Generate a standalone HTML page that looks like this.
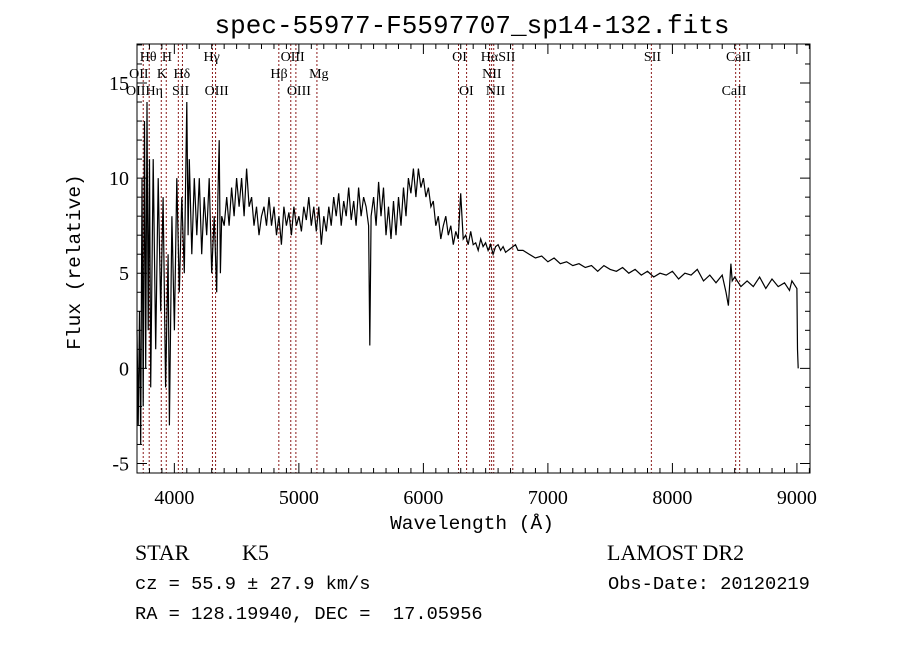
<!DOCTYPE html>
<html><head><meta charset="utf-8"><style>
html,body{margin:0;padding:0;background:#fff;}
svg{display:block;}
text{font-family:"Liberation Serif",serif;fill:#000;}
.mono{font-family:"Liberation Mono",monospace;white-space:pre;}
</style></head><body>
<svg id="chart" width="900" height="649" viewBox="0 0 900 649" xmlns="http://www.w3.org/2000/svg" xml:space="preserve">
<text class="mono" x="472" y="33" font-size="26" text-anchor="middle">spec-55977-F5597707_sp14-132.fits</text>
<g id="lines"></g>
<g id="labels"></g>
<path id="spec" fill="none" stroke="#000" stroke-width="1.2"/>
<rect x="137" y="44" width="673" height="429" fill="none" stroke="#000" stroke-width="1"/>
<g id="ticks" stroke="#000" stroke-width="1"></g>
<g id="ticklabels"></g>
<text class="mono" x="472" y="529" font-size="19.5" text-anchor="middle">Wavelength (Å)</text>
<text class="mono" x="0" y="0" font-size="19.5" text-anchor="middle" transform="translate(80,262) rotate(-90)">Flux (relative)</text>
<text x="135" y="560" font-size="22">STAR</text>
<text x="242" y="560" font-size="22">K5</text>
<text x="607" y="560" font-size="22">LAMOST DR2</text>
<text class="mono" x="135" y="589" font-size="18.7">cz = 55.9 ± 27.9 km/s</text>
<text class="mono" x="608" y="589" font-size="18.7">Obs-Date: 20120219</text>
<text class="mono" x="135" y="619" font-size="18.7">RA = 128.19940, DEC =  17.05956</text>
</svg>
<script>
const waves=[3700,3710,3720,3730,3740,3750,3760,3770,3780,3790,3800,3810,3830,3850,3870,3890,3910,3930,3950,3960,3980,4000,4020,4040,4060,4080,4100,4110,4120,4140,4160,4180,4200,4220,4240,4260,4280,4300,4320,4340,4350,4360,4370,4380,4400,4420,4440,4460,4480,4500,4520,4540,4560,4580,4600,4620,4640,4660,4680,4700,4720,4740,4760,4780,4800,4820,4840,4860,4880,4900,4920,4940,4960,4980,5000,5020,5040,5060,5080,5100,5120,5140,5160,5180,5200,5220,5240,5260,5280,5300,5320,5340,5360,5380,5400,5420,5440,5460,5480,5500,5520,5540,5560,5570,5580,5600,5620,5640,5660,5680,5700,5720,5740,5760,5780,5800,5820,5840,5860,5880,5900,5920,5940,5960,5980,6000,6020,6040,6060,6080,6100,6120,6140,6160,6180,6200,6220,6240,6260,6280,6300,6320,6340,6360,6380,6400,6420,6440,6460,6480,6500,6520,6540,6560,6580,6600,6620,6640,6660,6700,6740,6760,6800,6850,6900,6950,7000,7050,7100,7150,7200,7250,7300,7350,7400,7450,7500,7550,7600,7650,7700,7750,7800,7850,7900,7950,8000,8050,8100,8150,8200,8250,8300,8350,8400,8430,8450,8470,8480,8500,8550,8600,8650,8700,8750,8800,8850,8900,8940,8960,8980,9000,9005,9010];
const flux=[2,-3,3,-4,10,-2,13,0,14,2,11,-1,11,1,10,3,9,-1,6,-3,8,2,10,4,9,5,14,7,11,6,10,7,10,6,9,7,10,5,8,4,9,12,5,8,7.5,9,7.5,9.5,8,10,8.5,10,8,10.5,8.5,9,7.5,8.5,7,8,8.5,7.5,9,7.5,8.5,7,8,6.5,8.5,7.5,8.2,7,8.5,7.5,8,7.2,8.5,7.8,9,7.5,8.5,7.2,8.5,6.5,8,7.2,8.5,7.5,9,8,9.2,7.5,8.8,8,9.5,7.8,8.8,7.5,9.5,8,9,8.5,7.5,1.2,8,9,7.5,9.8,8,9.5,7,8.5,6.8,8.8,7,9,7.5,9.5,8,10,9.2,10.5,9,10.5,9.5,10,9,9.5,8.5,8.8,7.5,8,6.8,7.5,8,7,7.5,6.5,7.2,6.8,9.2,6.8,7,6.5,7.2,6.5,6.6,6.2,6.8,6.4,6.6,6.2,6.5,6.0,6.4,6.5,6.2,6.4,6.1,6.3,6.5,6.2,6.2,6.0,5.8,5.9,5.6,5.8,5.5,5.6,5.4,5.5,5.3,5.4,5.1,5.4,5.2,5.1,5.3,5.0,5.2,4.9,5.1,4.8,5.0,4.9,5.1,4.7,5.0,4.9,5.2,4.6,4.9,4.5,4.9,4.0,3.3,5.5,4.6,4.8,4.3,4.6,4.3,4.8,4.2,4.7,4.3,4.5,4.1,4.6,4.4,4.2,1.0,0];
const lineWaves=[3750,3798,3895,3935,4032,4065,4306,4331,4839,4935,4976,5145,6282,6347,6532,6548,6565,6718,7831,8508,8540];
const labelNames=["Hθ","H","Hγ","OIII","OI","HαSII","SII","CaII","OII","K","Hδ","Hβ","Mg","NII","OIIHη","SII","OIII","OIII","OI","NII","CaII"];
const labelWaves=[3790,3940,4300,4950,6290,6600,7840,8530,3715,3900,4060,4840,5160,6550,3760,4050,4340,5000,6345,6580,8495];
const labelRows=[0,0,0,0,0,0,0,0,1,1,1,1,1,1,2,2,2,2,2,2,2];
const xTicks=[4000,5000,6000,7000,8000,9000];
const yTicks=[-5,0,5,10,15];
const X0=3700,X1=9105,Y0=-5.5,Y1=17.05;
const L=137,R=810,T=44,B=473;
const xs=w=>L+(w-X0)/(X1-X0)*(R-L);
const ys=f=>B-(f-Y0)/(Y1-Y0)*(B-T);
const NS="http://www.w3.org/2000/svg";
function mk(tag,parent){const e=document.createElementNS(NS,tag);parent.appendChild(e);return e;}
let d="";
waves.forEach((w,i)=>{d+=(i?"L":"M")+xs(w).toFixed(1)+","+ys(flux[i]).toFixed(1);});
document.getElementById("spec").setAttribute("d",d);
const lg=document.getElementById("lines");
lineWaves.forEach(w=>{const l=mk("line",lg);


l.setAttribute("x1",xs(w));l.setAttribute("x2",xs(w));l.setAttribute("y1",T);l.setAttribute("y2",B);
l.setAttribute("stroke","#8b1a1a");l.setAttribute("stroke-dasharray","2,2");l.setAttribute("stroke-width","1");});
const lb=document.getElementById("labels");
labelNames.forEach((n,i)=>{const t=mk("text",lb);


t.setAttribute("x",xs(labelWaves[i]));t.setAttribute("y",61+labelRows[i]*17);
t.setAttribute("font-size","14");t.setAttribute("text-anchor","middle");t.textContent=n;});
const tg=document.getElementById("ticks"),tl=document.getElementById("ticklabels");
for(let w=3700;w<=9100;w+=100){const maj=w%1000===0;const len=maj?10:5;const x=xs(w);
[[B,B-len],[T,T+len]].forEach(p=>{const l=mk("line",tg);


l.setAttribute("x1",x);l.setAttribute("x2",x);l.setAttribute("y1",p[0]);l.setAttribute("y2",p[1]);});}
for(let f=-5;f<=17;f+=1){const maj=f%5===0;const len=maj?10:5;const y=ys(f);
[[L,L+len],[R,R-len]].forEach(p=>{const l=mk("line",tg);


l.setAttribute("x1",p[0]);l.setAttribute("x2",p[1]);l.setAttribute("y1",y);l.setAttribute("y2",y);});}
xTicks.forEach(w=>{const t=mk("text",tl);


t.setAttribute("x",xs(w));t.setAttribute("y",504);t.setAttribute("font-size","20");t.setAttribute("text-anchor","middle");
t.setAttribute("font-family","Liberation Sans, sans-serif");t.textContent=w;});
yTicks.forEach(f=>{const t=mk("text",tl);


t.setAttribute("x",129);t.setAttribute("y",ys(f)+7);t.setAttribute("font-size","20");t.setAttribute("text-anchor","end");
t.setAttribute("font-family","Liberation Sans, sans-serif");t.textContent=f;});
</script>
</body></html>
